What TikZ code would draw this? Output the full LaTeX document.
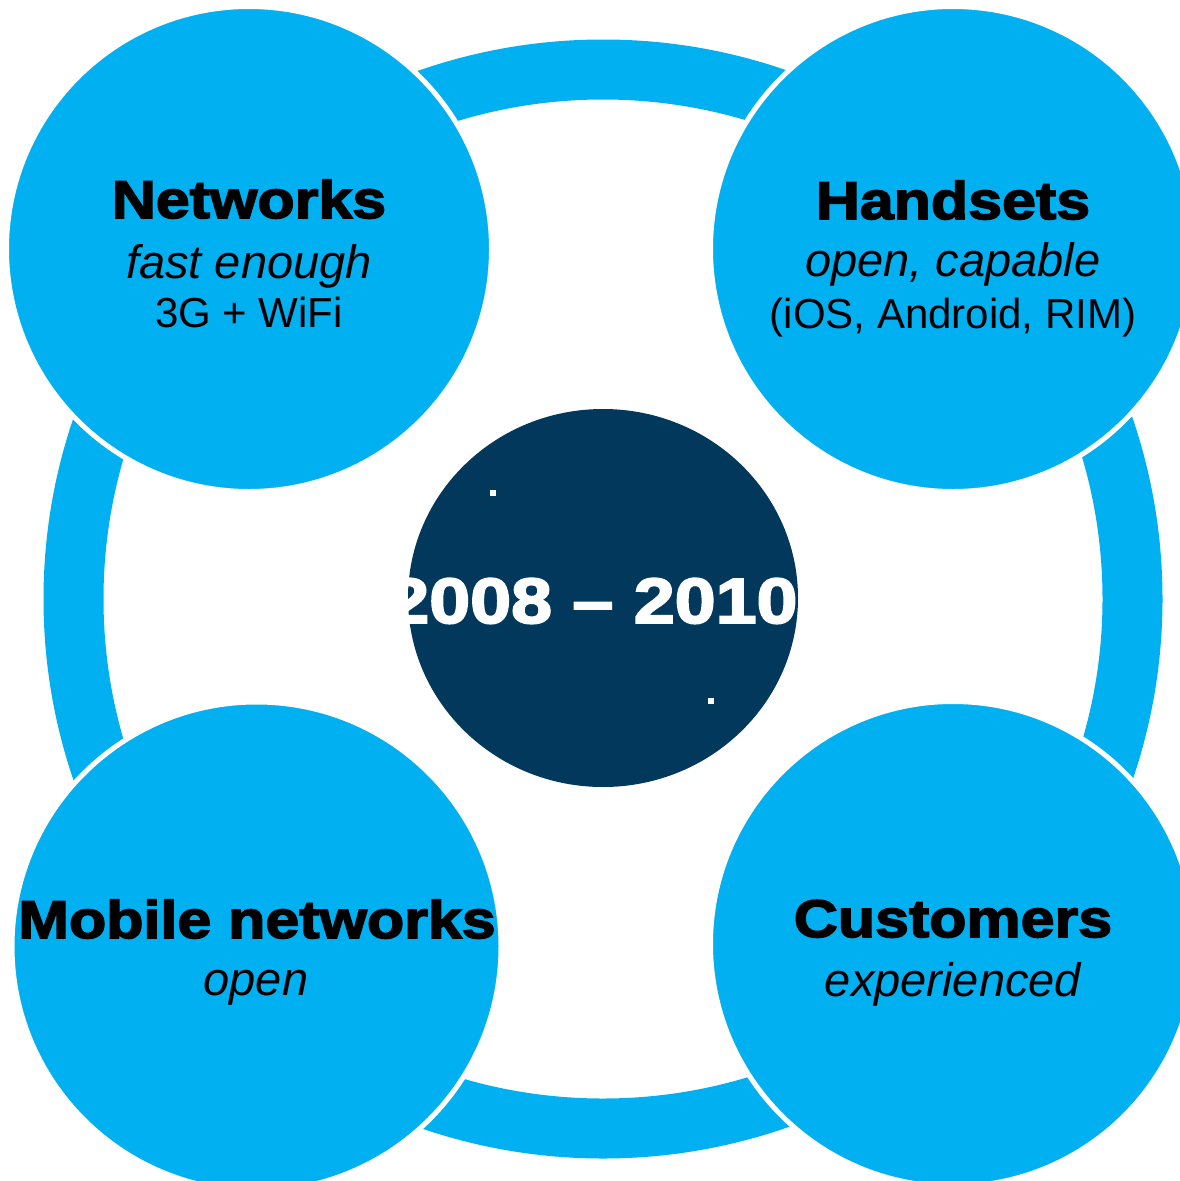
\documentclass[tikz,border=0pt]{standalone}
\usepackage{fontspec}
\setmainfont{Liberation Sans}
\newfontface\blk{Liberation Sans Bold}[FakeStretch=1.15,FakeBold=3]
\usetikzlibrary{shapes.geometric}
\definecolor{ringblue}{HTML}{00B0F0}
\definecolor{navy}{HTML}{02385B}
\begin{document}
\begin{tikzpicture}[x=1pt,y=-1pt,
  bubble/.style={circle, fill=ringblue, draw=white, line width=5pt, inner sep=0pt, minimum size=#1},
  head/.style={anchor=base, inner sep=0pt, font=\blk\fontsize{53}{60}\selectfont},
  sub/.style={anchor=base, inner sep=0pt, font=\itshape\fontsize{47}{54}\selectfont},
  plain/.style={anchor=base, inner sep=0pt, font=\fontsize{42}{48}\selectfont}]
\useasboundingbox (0,0) rectangle (1180,1181);
\fill[white] (0,0) rectangle (1180,1181);
% ring
\draw[ringblue, line width=60pt] (603,599) circle[radius=529.5pt];
% bubbles
\node[bubble=485pt] (tl) at (249,249) {};
\node[bubble=485pt] (tr) at (953,249) {};
\node[bubble=489pt] (bl) at (256.5,946.5) {};
\node[bubble=485pt] (br) at (953,944) {};
% core
\node[ellipse, fill=navy, inner sep=0pt, minimum width=390pt, minimum height=378pt] (core) at (603,598) {};
\node[anchor=base, inner sep=0pt, text=white, font=\blk\fontsize{64}{70}\selectfont] (years) at (593,623) {2008 – 2010};
\fill[white] (490,490) rectangle (496,496);
\fill[white] (708,698) rectangle (714,704);
% texts
\node[head] (tl1) at (249,218) {Networks};
\node[sub] (tl2) at (249,278) {fast enough};
\node[plain] (tl3) at (249,327) {3G + WiFi};
\node[head] (tr1) at (953,219) {Handsets};
\node[sub] (tr2) at (953,276) {open, capable};
\node[plain] (tr3) at (953,328) {(iOS, Android, RIM)};
\node[head] (bl1) at (257,938) {Mobile networks};
\node[sub] (bl2) at (256,995) {open};
\node[head] (br1) at (953,937) {Customers};
\node[sub] (br2) at (953,996) {experienced};
\end{tikzpicture}
\end{document}
